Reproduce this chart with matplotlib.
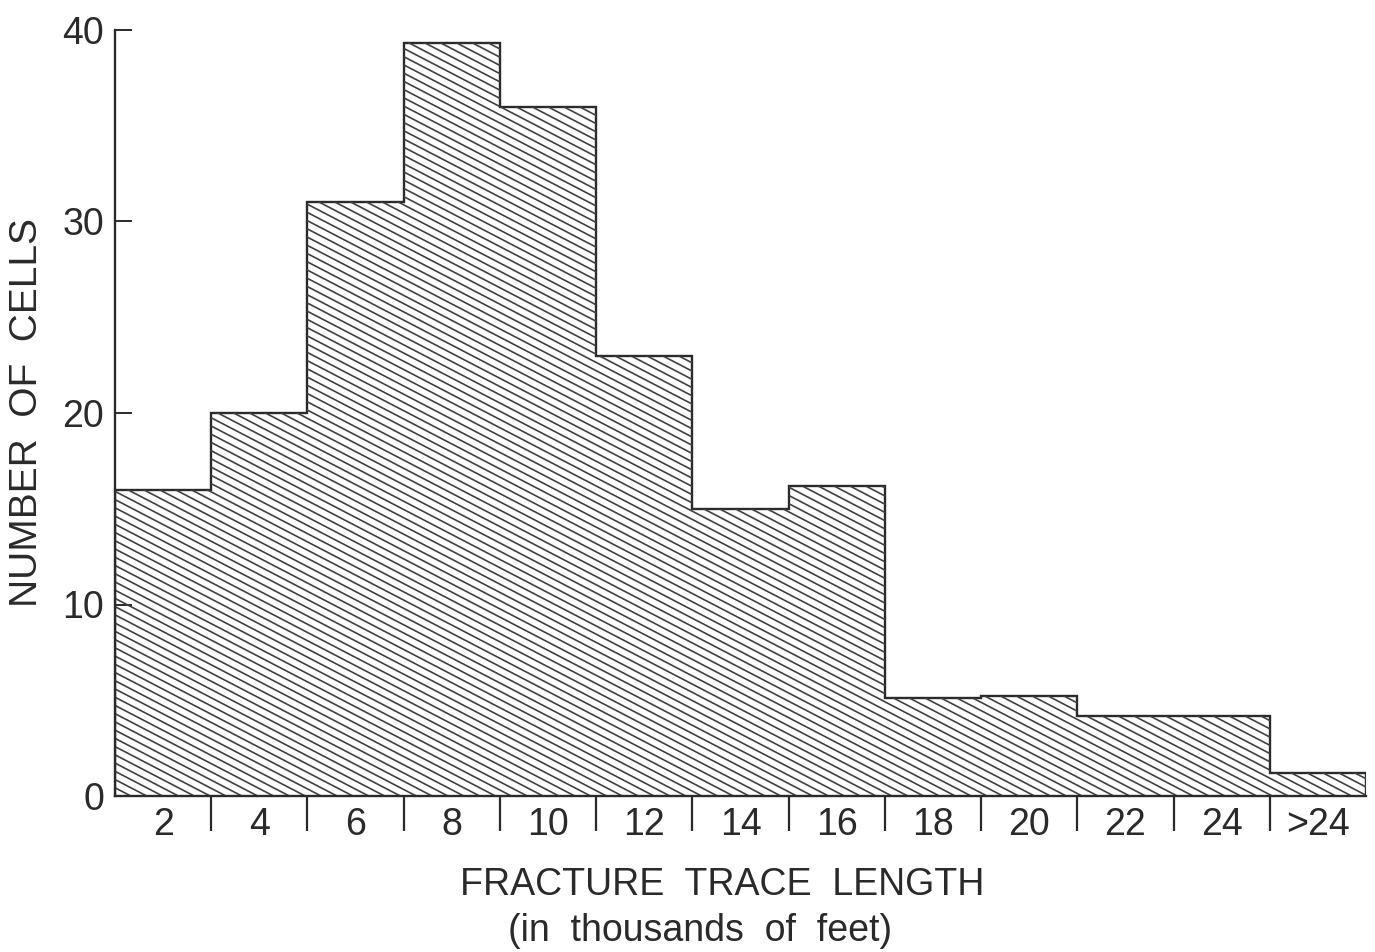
import numpy as np
import matplotlib
matplotlib.use("Agg")
import matplotlib.pyplot as plt
from matplotlib.collections import LineCollection

plt.rcParams['font.family'] = ['Liberation Sans', 'DejaVu Sans']

# histogram of fracture trace lengths
bin_labels = ["2", "4", "6", "8", "10", "12", "14", "16", "18", "20", "22", "24", ">24"]
counts = [16, 20, 31, 39.3, 36, 23, 15, 16.2, 5.1, 5.2, 4.2, 4.2, 1.2]
y_ticks = [0, 10, 20, 30, 40]

ink = "#2a2a2a"
edges = np.arange(len(counts) + 1)

fig = plt.figure(figsize=(13.75, 9.52), dpi=100)
ax = fig.add_axes([115 / 1375, 1 - 796 / 952, (1366 - 115) / 1375, (796 - 30) / 952])
ax.set_xlim(0, len(counts))
ax.set_ylim(0, 40)

# filled shape used only as clip region for the hatching
shape = ax.stairs(counts, edges, fill=True, facecolor="white", edgecolor="none", baseline=0)

# diagonal hatch lines, shallower than 45 degrees like the original
slope = -2.61
spacing = 0.43
offsets = np.arange(0, 40 - slope * len(counts) + 1, spacing)
segs = [[(0, c), (len(counts), c + slope * len(counts))] for c in offsets]
lc = LineCollection(segs, colors="#404040", linewidths=1.2)
ax.add_collection(lc)
lc.set_clip_path(shape)

ax.stairs(counts, edges, fill=False, color=ink, linewidth=1.7, baseline=0)

for s in ["top", "right"]:
    ax.spines[s].set_visible(False)
for s in ["left", "bottom"]:
    ax.spines[s].set_color(ink)
    ax.spines[s].set_linewidth(1.7)

ax.set_yticks(y_ticks)
ax.tick_params(axis="y", direction="in", length=12, width=1.4, color=ink,
               labelsize=27, labelcolor=ink, pad=8)

ax.set_xticks(edges[:-1] + 0.5)
ax.set_xticklabels(bin_labels)
ax.set_xticks(edges[1:-1], minor=True)
ax.tick_params(axis="x", which="major", length=0, labelsize=27, labelcolor=ink, pad=8)
ax.tick_params(axis="x", which="minor", direction="out", length=25, width=1.6, color=ink)

# x label as two lines placed like the original
fig.text(722 / 1375, 1 - 885 / 952, "FRACTURE  TRACE  LENGTH", fontsize=27, color=ink,
         ha="center", va="center")
fig.text(700 / 1375, 1 - 931 / 952, "(in  thousands  of  feet)", fontsize=27, color=ink,
         ha="center", va="center")
ax.set_ylabel("NUMBER  OF  CELLS", fontsize=28, color=ink, labelpad=12)

fig.savefig("out.png", dpi=100)
